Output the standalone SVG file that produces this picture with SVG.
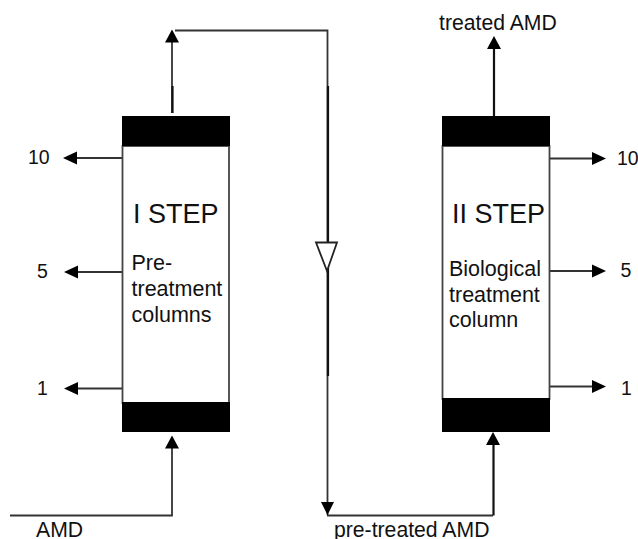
<svg xmlns="http://www.w3.org/2000/svg" width="638" height="539" viewBox="0 0 638 539">
<style>
text{font-family:"Liberation Sans",Arial,sans-serif;fill:#111}
.s{font-size:21.200px}
.d{font-size:19.500px}
.t{font-size:27px}
.m{font-size:21.500px}
.l{fill:none;stroke:#333;stroke-width:1.800}
.h{fill:none;stroke:#111;stroke-width:2.200}
.b{fill:#000}
.c{fill:#fff;stroke:#444;stroke-width:1.800}
</style>
<defs>
<path id="au" d="M0 0L7 13H-7Z" fill="#000"/>
<path id="ar" d="M0 0L-14 -6.500V6.500Z" fill="#000"/>
<path id="al" d="M0 0L14 -6.500V6.500Z" fill="#000"/>
</defs>
<rect width="638" height="539" fill="#fff"/>
<g id="connectors">
<path class="l" d="M172 113V34M175 30.500H327.500V515M10 515.500H172V445M327 515.500H493"/>
<path class="h" d="M172.500 113V86M328 86V376M493.500 515.500V445M494 116V46"/>
<path class="l" d="M122 158H75M122 272H75M122 388.500H75M550 158.500H597M550 271H597M550 386.500H597"/>
<use href="#au" x="172" y="29.500"/>
<use href="#au" x="172" y="435.500"/>
<use href="#au" x="494" y="36"/>
<use href="#au" x="493" y="432"/>
<path d="M327.500 515L321 502H334Z" fill="#000"/>
<use href="#al" x="63" y="158"/>
<use href="#al" x="64" y="272"/>
<use href="#al" x="64" y="388.500"/>
<use href="#ar" x="606" y="158.500"/>
<use href="#ar" x="606" y="271"/>
<use href="#ar" x="606" y="386.500"/>
<path d="M316 242.500H337L327 271Z" fill="#fff" stroke="#222" stroke-width="1.800"/>
</g>
<g id="step1">
<rect class="c" x="122.500" y="146" width="106.500" height="257"/>
<rect class="b" x="122" y="116" width="108" height="30"/>
<rect class="b" x="122" y="402" width="108" height="30"/>
<text class="t" x="133" y="222.500">I STEP</text>
<text class="m" x="131.500" y="269.500">Pre-</text>
<text class="m" x="131.500" y="296">treatment</text>
<text class="m" x="131.500" y="321.500">columns</text>
</g>
<g id="step2">
<rect class="c" x="442.500" y="146" width="107" height="253"/>
<rect class="b" x="442" y="116" width="108" height="30"/>
<rect class="b" x="442" y="398" width="108" height="34"/>
<text class="t" x="452" y="222.500">II STEP</text>
<text class="m" x="449" y="275.500">Biological</text>
<text class="m" x="449" y="301.500">treatment</text>
<text class="m" x="449" y="326.500">column</text>
</g>
<g id="labels">
<text class="d" x="28" y="163.500">10</text>
<text class="d" x="37" y="278">5</text>
<text class="d" x="37" y="394.500">1</text>
<text class="d" x="617" y="165">10</text>
<text class="d" x="620.500" y="277">5</text>
<text class="d" x="621" y="395">1</text>
<text class="s" x="36" y="536.500">AMD</text>
<text class="s" x="334" y="536.500">pre-treated AMD</text>
<text class="s" x="439" y="29.500">treated AMD</text>
</g>
</svg>
